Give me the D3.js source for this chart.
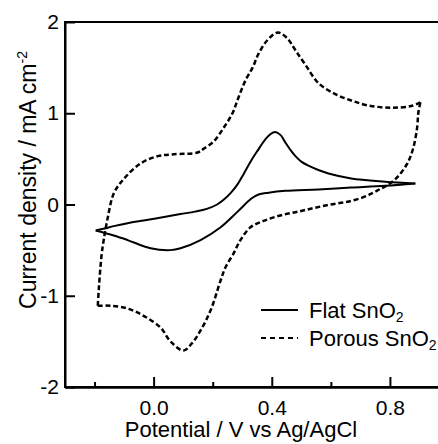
<!DOCTYPE html>
<html>
<head>
<meta charset="utf-8">
<script src="https://cdn.jsdelivr.net/npm/d3@7"></script>
<style>
  html, body { margin: 0; padding: 0; background: #fff; }
  svg { display: block; overflow: hidden; }
  text { font-family: "Liberation Sans", Arial, Helvetica, sans-serif; fill: #000; }
</style>
</head>
<body>
<svg id="chart" width="438" height="444"></svg>
<script>
// ---- data ----
const flatFwdV = [-0.196, -0.166, -0.135, -0.088, -0.034, 0.040, 0.091, 0.140, 0.180, 0.215, 0.240, 0.262, 0.284, 0.304, 0.330, 0.352, 0.375, 0.395, 0.412, 0.430, 0.446, 0.465, 0.480, 0.500, 0.524, 0.560, 0.592, 0.669, 0.784, 0.886];
const flatFwdJ = [-0.285, -0.263, -0.237, -0.205, -0.175, -0.135, -0.105, -0.078, -0.048, 0.0, 0.06, 0.13, 0.22, 0.33, 0.48, 0.59, 0.70, 0.77, 0.795, 0.76, 0.68, 0.59, 0.53, 0.47, 0.425, 0.375, 0.34, 0.285, 0.25, 0.23];
const flatRevV = [0.886, 0.784, 0.669, 0.558, 0.446, 0.389, 0.355, 0.331, 0.287, 0.227, 0.159, 0.091, 0.057, -0.010, -0.088, -0.135, -0.196];
const flatRevJ = [0.23, 0.205, 0.185, 0.165, 0.15, 0.13, 0.11, 0.065, -0.07, -0.25, -0.39, -0.48, -0.50, -0.48, -0.39, -0.34, -0.285];

const porousFwdV = [-0.189, -0.186, -0.183, -0.176, -0.169, -0.155, -0.135, -0.101, -0.044, 0.014, 0.068, 0.149, 0.169, 0.203, 0.237, 0.267, 0.287, 0.311, 0.335, 0.355, 0.385, 0.421, 0.453, 0.480, 0.514, 0.558, 0.615, 0.669, 0.727, 0.805, 0.872, 0.903];
const porousFwdJ = [-1.11, -0.95, -0.81, -0.55, -0.39, -0.14, 0.12, 0.28, 0.45, 0.53, 0.55, 0.57, 0.61, 0.69, 0.84, 1.00, 1.17, 1.36, 1.50, 1.65, 1.80, 1.885, 1.82, 1.69, 1.53, 1.33, 1.21, 1.14, 1.085, 1.06, 1.08, 1.12];
const porousRevV = [0.903, 0.896, 0.892, 0.879, 0.859, 0.825, 0.791, 0.767, 0.744, 0.710, 0.656, 0.598, 0.541, 0.487, 0.429, 0.372, 0.328, 0.294, 0.270, 0.243, 0.227, 0.193, 0.159, 0.130, 0.101, 0.057, 0.024, -0.034, -0.088, -0.145, -0.189];
const porousRevJ = [1.12, 1.00, 0.84, 0.62, 0.45, 0.30, 0.21, 0.17, 0.13, 0.08, 0.03, 0.00, -0.04, -0.08, -0.12, -0.18, -0.25, -0.39, -0.54, -0.69, -0.83, -1.16, -1.38, -1.52, -1.60, -1.50, -1.35, -1.22, -1.14, -1.11, -1.11];

const xMajorTicks = [0.0, 0.4, 0.8];
const xMinorTicks = [-0.2, 0.2, 0.6];
const yTicks = [-2, -1, 0, 1, 2];
const xTitle = "Potential / V vs Ag/AgCl";
const yTitle = "Current density / mA cm";
const legendNames = ["Flat SnO", "Porous SnO"];

// ---- layout ----
const svg = d3.select("#chart");
const x = d3.scaleLinear().domain([-0.3, 1.0]).range([65, 449]);
const y = d3.scaleLinear().domain([-2, 2]).range([387, 22]);

const line = d3.line()
  .x(d => x(d[0])).y(d => y(d[1]))
  .curve(d3.curveCatmullRom.alpha(0.5));

function pts(v, j) { return v.map((d, i) => [d, j[i]]); }

const plot = svg.append("g");
// flat: solid
[[flatFwdV, flatFwdJ], [flatRevV, flatRevJ]].forEach(([v, j]) => {
  plot.append("path").attr("d", line(pts(v, j)))
    .attr("fill", "none").attr("stroke", "#000").attr("stroke-width", 2)
    .attr("stroke-linejoin", "round");
});
// porous: dashed
[[porousFwdV, porousFwdJ], [porousRevV, porousRevJ]].forEach(([v, j]) => {
  plot.append("path").attr("d", line(pts(v, j)))
    .attr("fill", "none").attr("stroke", "#000").attr("stroke-width", 2.5)
    .attr("stroke-dasharray", "5,2.8");
});

// ---- frame ----
svg.append("rect")
  .attr("x", x(-0.3)).attr("y", y(2))
  .attr("width", x(1.0) - x(-0.3)).attr("height", y(-2) - y(2))
  .attr("fill", "none").attr("stroke", "#000").attr("stroke-width", 2);

// ---- axes ----
const xAxisMajor = d3.axisBottom(x).tickValues(xMajorTicks).tickSizeInner(-10).tickSizeOuter(0)
  .tickPadding(13).tickFormat(d3.format(".1f"));
const gx = svg.append("g").attr("transform", `translate(0,${y(-2)})`).call(xAxisMajor);
const xAxisMinor = d3.axisBottom(x).tickValues(xMinorTicks).tickSizeInner(-5).tickSizeOuter(0).tickFormat("");
const gxm = svg.append("g").attr("transform", `translate(0,${y(-2)})`).call(xAxisMinor);

const yAxis = d3.axisLeft(y).tickValues(yTicks).tickSizeInner(-10).tickSizeOuter(0)
  .tickPadding(6).tickFormat(d => String(d));
const gy = svg.append("g").attr("transform", `translate(${x(-0.3)},0)`).call(yAxis);

[gx, gxm, gy].forEach(g => {
  g.select(".domain").attr("stroke-width", 2);
  g.selectAll(".tick line").attr("stroke-width", 2);
  g.selectAll(".tick text").attr("font-size", 21).attr("font-family", "Liberation Sans, Arial, sans-serif");
});

// ---- titles ----
svg.append("text").attr("x", 241).attr("y", 437).attr("text-anchor", "middle")
  .attr("font-size", 22).text(xTitle);

const yt = svg.append("text").attr("transform", "translate(36,180) rotate(-90)")
  .attr("text-anchor", "middle").attr("font-size", 23);
yt.append("tspan").text(yTitle);
yt.append("tspan").attr("font-size", 14).attr("dy", -9).text("-2");

// ---- legend ----
const legend = svg.append("g");
legendNames.forEach((name, i) => {
  const ly = 310 + i * 28;
  legend.append("line").attr("x1", 261).attr("x2", 298).attr("y1", ly).attr("y2", ly)
    .attr("stroke", "#000").attr("stroke-width", 2)
    .attr("stroke-dasharray", i === 0 ? null : "5,4");
  const t = legend.append("text").attr("x", 309).attr("y", ly + 7.5).attr("font-size", 22);
  t.append("tspan").text(name);
  t.append("tspan").attr("font-size", 14).attr("dy", 4).text("2");
});
</script>
</body>
</html>
